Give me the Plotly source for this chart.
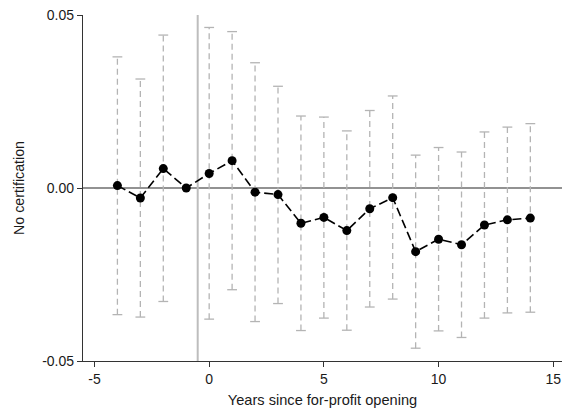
import plotly.graph_objects as go

years = [-4, -3, -2, -1, 0, 1, 2, 3, 4, 5, 6, 7, 8, 9, 10, 11, 12, 13, 14]
coef = [0.0007, -0.0029, 0.0056, 0.0, 0.0042, 0.0079, -0.0012, -0.0019, -0.0102, -0.0085,
        -0.0123, -0.0060, -0.0028, -0.0184, -0.0148, -0.0164, -0.0107, -0.0092, -0.0087]
ci_hi = [0.0379, 0.0315, 0.0442, None, 0.0464, 0.0452, 0.0362, 0.0294, 0.0208, 0.0205,
         0.0165, 0.0224, 0.0266, 0.0095, 0.0117, 0.0104, 0.0162, 0.0176, 0.0186]
ci_lo = [-0.0366, -0.0373, -0.0328, None, -0.0379, -0.0294, -0.0386, -0.0334, -0.0412, -0.0376,
         -0.0411, -0.0344, -0.0321, -0.0463, -0.0413, -0.0432, -0.0376, -0.0361, -0.0359]

x_ticks = [-5, 0, 5, 10, 15]
x_ticklabels = ["-5", "0", "5", "10", "15"]
y_ticks = [-0.05, 0, 0.05]
y_ticklabels = ["-0.05", "0.00", "0.05"]

font = "Liberation Sans, Arial, sans-serif"
ci_color = "#b4b4b4"

# dashed vertical confidence intervals
seg_x, seg_y, cap_x, cap_y = [], [], [], []
for x, lo, hi in zip(years, ci_lo, ci_hi):
    if lo is None:
        continue
    seg_x += [x, x, None]
    seg_y += [lo, hi, None]
    cap_x += [x, x]
    cap_y += [lo, hi]

fig = go.Figure()

fig.add_hline(y=0, line=dict(color="#6e6e6e", width=1.5), layer="below")
fig.add_vline(x=-0.5, line=dict(color="#bdbdbd", width=2), layer="below")

fig.add_trace(go.Scatter(
    x=seg_x, y=seg_y, mode="lines",
    line=dict(color=ci_color, width=1.3, dash="6px,4px"),
    showlegend=False, hoverinfo="skip"))
fig.add_trace(go.Scatter(
    x=cap_x, y=cap_y, mode="markers",
    marker=dict(symbol="line-ew", size=7, line=dict(color=ci_color, width=1.3)),
    showlegend=False, hoverinfo="skip"))

fig.add_trace(go.Scatter(
    x=years, y=coef, mode="lines+markers",
    line=dict(color="black", width=1.6, dash="9px,4px"),
    marker=dict(color="black", size=9),
    showlegend=False))

axis_common = dict(
    showline=True, linecolor="#333333", linewidth=1.3,
    ticks="outside", ticklen=5, tickcolor="#333333", tickwidth=1.3,
    showgrid=False, zeroline=False, automargin=False,
    tickfont=dict(family=font, size=14, color="#1a1a1a"),
)

fig.update_xaxes(
    range=[-5.5, 15.38], tickvals=x_ticks, ticktext=x_ticklabels,
    title=dict(text="Years since for-profit opening", standoff=8,
               font=dict(family=font, size=14.6, color="#1a1a1a")),
    **axis_common)
fig.update_yaxes(
    range=[-0.05, 0.05], tickvals=y_ticks, ticktext=y_ticklabels,
    title=dict(text="No certification", standoff=14,
               font=dict(family=font, size=14.2, color="#1a1a1a")),
    **axis_common)

fig.update_layout(
    width=562, height=411,
    margin=dict(l=83, r=0, t=15, b=50),
    plot_bgcolor="white", paper_bgcolor="white",
    font=dict(family=font, size=14, color="#1a1a1a"),
)

# the page's default body margin would push the fixed-size figure off the window
fig.write_html("out.html", config={"displayModeBar": False},
               post_script="document.body.style.margin='0';")
